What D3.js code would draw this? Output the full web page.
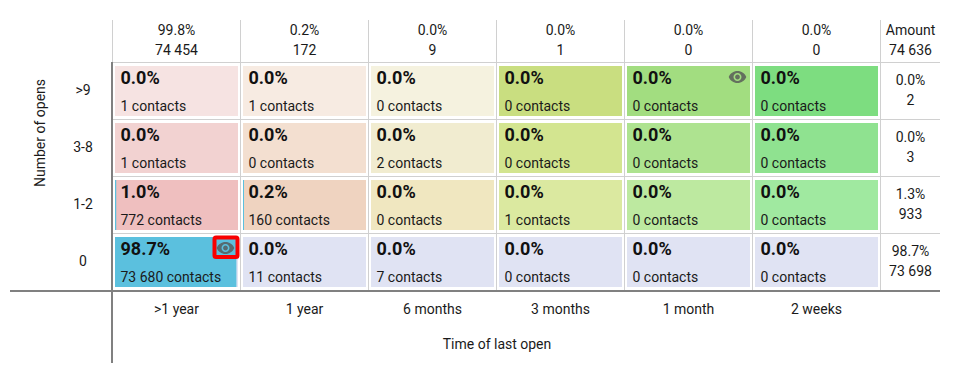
<!DOCTYPE html>
<html>
<head>
<meta charset="utf-8">
<script src="https://cdn.jsdelivr.net/npm/d3@7"></script>
<style>
	html, body { margin: 0; padding: 0; background: #fff; }
	svg { display: block; }
	text { font-family: Roboto, sans-serif; font-size: 14px; fill: #1a1a1a; }
	.pct { font-size: 18px; font-weight: 700; fill: #111; }
</style>
</head>
<body>
<div id="chart"></div>
<script>
const lastOpen = ['>1 year', '1 year', '6 months', '3 months', '1 month', '2 weeks'];
const opens = ['>9', '3-8', '1-2', '0'];

const columnPercent = ['99.8%', '0.2%', '0.0%', '0.0%', '0.0%', '0.0%'];
const columnAmount = ['74 454', '172', '9', '1', '0', '0'];
const rowPercent = ['0.0%', '0.0%', '1.3%', '98.7%'];
const rowAmount = ['2', '3', '933', '73 698'];
const totalAmount = '74 636';

const cellPercent = [
	[0.0, 0.0, 0.0, 0.0, 0.0, 0.0],
	[0.0, 0.0, 0.0, 0.0, 0.0, 0.0],
	[1.0, 0.2, 0.0, 0.0, 0.0, 0.0],
	[98.7, 0.0, 0.0, 0.0, 0.0, 0.0]
];
const cellContacts = [
	['1', '1', '0', '0', '0', '0'],
	['1', '0', '2', '0', '0', '0'],
	['772', '160', '0', '1', '0', '0'],
	['73 680', '11', '7', '0', '0', '0']
];

const palette = [
	['#f6e3e2', '#f7ebe2', '#f5f2df', '#c9de80', '#a2dd80', '#7ddd80'],
	['#f2d2d1', '#f3dfd0', '#f1ecd0', '#d3e590', '#aee390', '#8fe290'],
	['#efbfbf', '#efd3c0', '#f0e7c0', '#dbe9a0', '#bde9a0', '#a0e9a0'],
	['#e0e3f3', '#e0e3f3', '#e0e3f3', '#e0e3f3', '#e0e3f3', '#e0e3f3']
];
const eyes = [[0, 4], [3, 0]];

const width = 962, height = 373;
const gridLeft = 112, gridRight = 880, gridTop = 62, gridBottom = 290;
const tableRight = 940;

const x = d3.scaleBand().domain(lastOpen).range([gridLeft, gridRight]);
const y = d3.scaleBand().domain(opens).range([gridTop, gridBottom]);
const fillWidth = d3.scaleLinear().domain([0, 100]).range([0, x.bandwidth() - 5]);

const svg = d3.select('#chart').append('svg')
	.attr('width', width)
	.attr('height', height);

// light grid
const grid = svg.append('g')
	.attr('stroke', '#d0d0d0')
	.attr('stroke-width', 1);

grid.selectAll('line.v')
	.data(lastOpen)
	.join('line')
	.attr('class', 'v')
	.attr('x1', d => x(d) + x.bandwidth() + 0.5)
	.attr('x2', d => x(d) + x.bandwidth() + 0.5)
	.attr('y1', 20)
	.attr('y2', gridBottom);

grid.append('line')
	.attr('x1', gridLeft + 0.5).attr('x2', gridLeft + 0.5)
	.attr('y1', 20).attr('y2', gridTop);

grid.selectAll('line.h')
	.data(opens.slice(0, 3))
	.join('line')
	.attr('class', 'h')
	.attr('x1', gridLeft)
	.attr('x2', tableRight)
	.attr('y1', d => y(d) + y.bandwidth() + 0.5)
	.attr('y2', d => y(d) + y.bandwidth() + 0.5);

grid.append('line')
	.attr('x1', gridLeft).attr('x2', tableRight)
	.attr('y1', gridTop + 0.5).attr('y2', gridTop + 0.5);

// cells
const rows = svg.selectAll('g.row')
	.data(opens)
	.join('g')
	.attr('class', 'row')
	.attr('transform', d => `translate(0, ${y(d)})`);

const cells = rows.selectAll('g.cell')
	.data((d, r) => lastOpen.map((col, c) => ({col, r, c})))
	.join('g')
	.attr('class', 'cell')
	.attr('transform', d => `translate(${x(d.col)}, 0)`);

cells.append('rect')
	.attr('x', 3)
	.attr('y', 4)
	.attr('width', x.bandwidth() - 5)
	.attr('height', 50)
	.attr('fill', d => palette[d.r][d.c]);

cells.filter(d => cellPercent[d.r][d.c] > 0)
	.append('rect')
	.attr('x', 3)
	.attr('y', 4)
	.attr('width', d => Math.max(1, fillWidth(cellPercent[d.r][d.c])))
	.attr('height', 50)
	.attr('fill', '#5bc0de');

cells.append('text')
	.attr('class', 'pct')
	.attr('x', 8.5)
	.attr('y', 22)
	.text(d => cellPercent[d.r][d.c].toFixed(1) + '%');

cells.append('text')
	.attr('x', 8.5)
	.attr('y', 49)
	.text(d => `${cellContacts[d.r][d.c]} contacts`);

// eye icons
const eyePath = 'M12 4.5C7 4.5 2.73 7.61 1 12c1.73 4.39 6 7.5 11 7.5s9.27-3.11 11-7.5c-1.73-4.39-6-7.5-11-7.5zM12 17c-2.76 0-5-2.24-5-5s2.24-5 5-5 5 2.24 5 5-2.24 5-5 5zm0-8c-1.66 0-3 1.34-3 3s1.34 3 3 3 3-1.34 3-3-1.34-3-3-3z';

eyes.forEach(([r, c], i) => {
	const cx = x(lastOpen[c]) + x.bandwidth() - 14.5;
	const cy = y(opens[r]) + 15;

	if (i === 1) {
		svg.append('rect')
			.attr('x', cx - 11)
			.attr('y', cy - 10.5)
			.attr('width', 23)
			.attr('height', 19.5)
			.attr('rx', 1.5)
			.attr('fill', 'none')
			.attr('stroke', '#f80000')
			.attr('stroke-width', 4);
	}

	svg.append('path')
		.attr('d', eyePath)
		.attr('transform', `translate(${cx - 9.6}, ${cy - 9.6}) scale(0.8)`)
		.attr('fill', '#555')
		.attr('fill-opacity', 0.8);
});

// header
const header = svg.selectAll('g.head')
	.data(lastOpen)
	.join('g')
	.attr('class', 'head')
	.attr('transform', d => `translate(${x(d) + x.bandwidth() / 2 + 0.5}, 0)`)
	.attr('text-anchor', 'middle');

header.append('text').attr('y', 35).text((d, i) => columnPercent[i]);
header.append('text').attr('y', 55).text((d, i) => columnAmount[i]);

const totalX = (gridRight + 1 + tableRight) / 2;

svg.append('text').attr('x', totalX).attr('y', 35).attr('text-anchor', 'middle').text('Amount');
svg.append('text').attr('x', totalX).attr('y', 55).attr('text-anchor', 'middle').text(totalAmount);

// row totals
const totals = rows.append('g')
	.attr('transform', `translate(${totalX}, 0)`)
	.attr('text-anchor', 'middle');

totals.append('text').attr('y', 23).text((d, i) => rowPercent[i]);
totals.append('text').attr('y', 43).text((d, i) => rowAmount[i]);

// axis labels
rows.append('text')
	.attr('x', 83)
	.attr('y', 33)
	.attr('text-anchor', 'middle')
	.text(d => d);

svg.selectAll('text.xlab')
	.data(lastOpen)
	.join('text')
	.attr('class', 'xlab')
	.attr('x', d => x(d) + x.bandwidth() / 2 + 0.5)
	.attr('y', 314)
	.attr('text-anchor', 'middle')
	.text(d => d);

svg.append('text')
	.attr('x', 497)
	.attr('y', 349)
	.attr('text-anchor', 'middle')
	.text('Time of last open');

svg.append('text')
	.attr('transform', 'translate(45, 133) rotate(-90)')
	.attr('text-anchor', 'middle')
	.text('Number of opens');

// dark axes
svg.append('line')
	.attr('x1', 10).attr('x2', tableRight)
	.attr('y1', gridBottom + 1).attr('y2', gridBottom + 1)
	.attr('stroke', '#808080').attr('stroke-width', 2);

svg.append('line')
	.attr('x1', gridLeft).attr('x2', gridLeft)
	.attr('y1', gridTop).attr('y2', 363)
	.attr('stroke', '#808080').attr('stroke-width', 2);
</script>
</body>
</html>
